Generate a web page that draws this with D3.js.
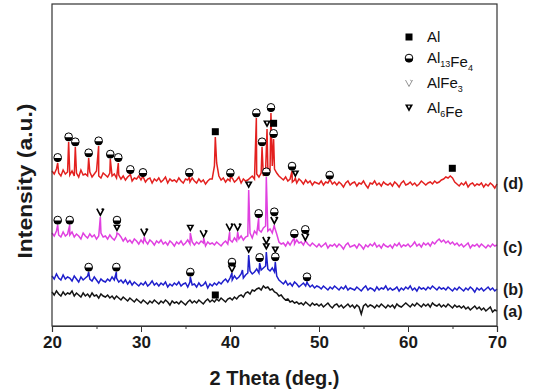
<!DOCTYPE html>
<html>
<head>
<meta charset="utf-8">
<script src="https://cdn.jsdelivr.net/npm/d3@7"></script>
<style>
  body { margin: 0; background: #fff; }
  svg { display: block; font-family: "Liberation Sans", Arial, sans-serif; }
</style>
</head>
<body>
<div id="chart"></div>
<script>
// 2-theta sampling of the noisy background (deg.)
const thetaStart = 20;
const thetaStep = 0.25;

// background scans, one value per 0.25 deg, a.u.
const scanA = [
  34,31,35,32,30,34,31,33, 32,35,30,33,31,29,33,30, 32,29,33,30,31,28,32,30, 29,31,28,30,27,30,28,26,
  29,27,25,28,26,24,27,25, 23,26,24,22,25,23,26,24, 22,25,23,26,24,21,25,23, 24,22,25,23,21,24,26,23,
  25,23,26,24,22,25,27,24, 26,24,27,25,28,26,24,27, 28,26,29,27,30,31,29,33, 34,32,36,35,37,38,36,40,
  38,39,36,37,34,33,30,31, 28,26,27,24,25,23,24,22, 23,21,24,22,20,23,21,22, 20,22,19,21,23,20,18,21,
  22,19,21,18,20,22,19,21, 18,21,19,12,20,22,19,21, 20,18,21,19,22,20,18,21, 19,21,18,22,20,19,21,23,
  21,19,22,20,23,21,19,22, 20,22,19,23,21,20,22,19, 21,19,22,20,18,21,19,20, 18,20,17,19,16,18,20,17,
  19,16,18,15,17,19,14,16, 15
];
const scanB = [
  50,47,52,48,46,51,47,49, 48,45,50,47,44,49,46,48, 50,47,45,49,46,43,47,45, 44,47,45,49,46,48,44,46,
  43,46,42,45,41,44,42,40, 43,41,44,40,42,45,41,43, 40,43,41,44,39,42,40,43, 41,44,40,42,43,39,44,41,
  42,39,43,40,41,44,38,42, 40,43,41,44,42,45,47,44, 48,46,50,47,49,52,48,51, 53,55,52,54,57,53,56,58,
  60,57,55,58,54,50,46,44, 42,45,41,43,40,44,42,39, 41,43,40,42,39,41,38,40, 39,37,40,38,36,39,37,40,
  38,36,39,37,40,36,38,37, 36,39,37,35,38,40,36,38, 37,35,39,36,38,37,40,36, 38,36,37,39,35,38,36,39,
  37,40,36,38,35,39,37,38, 36,39,37,40,38,36,39,37, 38,36,39,37,35,38,36,39, 37,35,38,36,39,37,34,38,
  36,38,35,37,39,36,38,35, 37
];
const scanC = [
  93,90,95,91,89,94,90,92, 91,94,89,92,90,87,93,90, 88,92,89,91,87,90,93,89, 90,87,91,88,86,90,92,89,
  85,88,84,86,83,87,85,82, 86,83,85,82,86,84,81,85, 83,86,82,84,81,85,83,80, 84,82,85,81,83,86,82,84,
  81,84,82,85,83,80,84,82, 83,81,84,82,80,83,85,82, 86,84,88,85,87,90,86,89, 90,93,88,95,92,96,94,98,
  100,95,97,93,99,92,84,82, 83,80,84,81,85,82,86,83, 84,81,85,82,80,83,81,79, 82,79,81,83,78,81,80,82,
  79,82,80,77,81,83,79,80, 81,78,82,80,77,81,79,82, 80,83,79,81,78,82,80,79, 81,78,82,80,83,79,81,80,
  82,79,81,84,80,82,79,83, 81,83,80,84,82,85,87,84, 86,83,85,82,84,81,83,80, 82,79,81,83,78,81,80,82,
  79,82,80,78,81,79,82,80, 81
];
const scanD = [
  155,152,157,153,150,156,152,154, 151,155,150,153,149,156,151,152, 150,154,149,152,155,150,148,153, 151,149,153,150,152,148,151,147,
  150,146,149,151,145,148,147,150, 146,149,144,147,148,143,147,145, 148,144,146,149,143,147,145,146, 144,148,145,143,147,146,144,148,
  145,143,147,144,146,142,145,147, 147,160,163,150,146,148,144,147, 145,148,144,146,149,143,147,145, 146,148,150,147,152,149,153,150,
  155,158,156,160,157,153,150,148, 146,149,145,147,144,146,143,147, 145,142,146,143,145,141,144,143, 142,145,141,144,143,146,142,144,
  141,144,142,139,143,145,141,143, 144,140,143,142,145,141,138,143, 142,145,141,143,140,144,142,141, 143,140,144,142,139,143,145,141,
  142,144,141,143,140,142,145,143, 141,143,144,142,145,143,144,146, 147,149,148,150,148,144,142,140, 143,141,144,139,142,143,140,142,
  141,143,139,142,140,143,141,138, 142
];

// sharp reflections [2theta, top intensity]
const peaksA = [];
const peaksB = [[24.12,54],[27.23,54],[35.54,49],[40.22,53],[41.4,56],[42.1,71],[43.33,63],[44.08,74],[45.09,64],[48.65,44]];
const peaksC = [[20.64,101],[21.99,101],[25.43,109],[27.3,93],[30.37,89],[35.54,93],[37.04,88],[39.96,94],[40.86,94],
  [42.1,136],[43.22,108],[44.08,149],[44.98,101],[47.23,88],[48.46,85]];
const peaksD = [[20.64,163],[21.87,184],[22.62,179],[24.12,168],[25.24,180],[26.55,167],[27.45,163],[28.8,152],[30.22,150],
  [35.43,149],[38.35,189],[40.04,149],[42.96,208],[43.6,179],[44.16,197],[44.6,213],[44.9,187],[46.97,155],[47.34,148],[51.2,146]];

// phase markers [2theta, phase, intensity of marker centre]
const marksA = [[38.35,'al',31]];
const marksB = [[24.12,'al13',59],[27.23,'al13',59],[35.54,'al13',54],[40.22,'al13',64],[40.22,'alfe3',57.7],[42.1,'al6fe',76],
  [43.33,'al13',68.7],[44.08,'alfe3',86],[44.08,'al6fe',79.3],[45.09,'al6fe',76],[45.09,'al13',69.3],[48.65,'al13',49.3]];
const marksC = [[20.64,'al13',106],[21.99,'al13',106],[25.43,'alfe3',114.3],[27.3,'al13',106],[27.3,'al6fe',97.7],[30.37,'alfe3',94.3],
  [35.54,'al6fe',97.7],[37.04,'alfe3',92.7],[39.96,'alfe3',99.3],[40.86,'alfe3',99.3],[42.1,'al6fe',141],[43.22,'al13',112.7],
  [44.08,'al13',154.3],[44.98,'al13',114.3],[44.98,'alfe3',106],[47.23,'al13',92.7],[48.46,'al13',96.7],[48.46,'alfe3',89.3]];
const marksD = [[20.64,'al13',168.7],[21.87,'al13',189.3],[22.62,'al13',184.3],[24.12,'al13',173.3],[25.24,'al13',185.3],
  [26.55,'al13',172],[27.45,'al13',168.7],[28.8,'al13',156.7],[30.22,'al13',153.7],[35.43,'al13',153.7],[38.35,'al',194.3],
  [40.04,'al13',153.3],[42.96,'al13',213.3],[43.6,'al13',184.3],[44.16,'al6fe',202],[44.6,'al13',218.7],[44.9,'al',202.7],
  [44.9,'al13',192.7],[46.97,'al13',160],[47.34,'al6fe',152],[51.2,'al13',151],[64.98,'al',157.7]];

const sampleNames = ['(a)', '(b)', '(c)', '(d)'];
const sampleLabelY = [15, 37, 79, 143];
const xTicks = [20, 30, 40, 50, 60, 70];
const xMinorTicks = [25, 35, 45, 55, 65];

const legendItems = [
  { type: 'al', parts: [['Al', false]] },
  { type: 'al13', parts: [['Al', false], ['13', true], ['Fe', false], ['4', true]] },
  { type: 'alfe3', parts: [['AlFe', false], ['3', true]] },
  { type: 'al6fe', parts: [['Al', false], ['6', true], ['Fe', false]] }
];

const width = 536, height = 391;
const margin = { left: 52, right: 39, top: 4, bottom: 65 };

const svg = d3.select('#chart').append('svg')
  .attr('width', width)
  .attr('height', height);

const x = d3.scaleLinear().domain([20, 70]).range([margin.left, width - margin.right]);
const y = d3.scaleLinear().domain([0, 322]).range([height - margin.bottom, margin.top]);

function buildSeries(scan, peaks) {
  const pts = scan.map((v, i) => [thetaStart + thetaStep * i, v]);
  return pts.concat(peaks).sort((a, b) => a[0] - b[0]);
}

const series = [
  { data: buildSeries(scanA, peaksA), marks: marksA, color: '#141414' },
  { data: buildSeries(scanB, peaksB), marks: marksB, color: '#1e1ecc' },
  { data: buildSeries(scanC, peaksC), marks: marksC, color: '#e040e0' },
  { data: buildSeries(scanD, peaksD), marks: marksD, color: '#e3201f' }
];

const line = d3.line().x(d => x(d[0])).y(d => y(d[1]));

const plot = svg.append('g');

plot.selectAll('path.scan')
  .data(series)
  .join('path')
  .attr('class', 'scan')
  .attr('d', d => line(d.data))
  .attr('fill', 'none')
  .attr('stroke', d => d.color)
  .attr('stroke-width', 1.5)
  .attr('stroke-linejoin', 'miter');

// marker glyphs
function drawMarker(g, type, grey) {
  const ink = grey ? '#888' : '#000';
  if (type === 'al') {
    g.append('rect').attr('x', -3.5).attr('y', -3.5).attr('width', 7).attr('height', 7).attr('fill', '#000');
  } else if (type === 'al13') {
    g.append('circle').attr('r', 3.8).attr('fill', '#fff').attr('stroke', '#000').attr('stroke-width', 1);
    g.append('path').attr('d', 'M-4,0.6 A4,4 0 0 0 4,0.6 Z').attr('fill', '#000');
  } else if (type === 'al6fe') {
    g.append('path').attr('d', 'M-4,-3.5 L4,-3.5 L0,3.8 Z').attr('fill', '#000');
    g.append('path').attr('d', 'M-1.2,-2.2 L1.2,-2.2 L0,0.4 Z').attr('fill', '#fff');
  } else if (type === 'alfe3') {
    g.append('path').attr('d', 'M-3.5,-3 L0,3.5 L3.5,-3 M1.5,-3.2 L2.5,-1.5')
      .attr('fill', 'none').attr('stroke', ink).attr('stroke-width', grey ? 0.9 : 1.6);
  }
}

series.forEach(s => {
  s.marks.forEach(m => {
    const g = plot.append('g').attr('transform', `translate(${x(m[0])},${y(m[2])})`);
    drawMarker(g, m[1], false);
  });
});

// frame
svg.append('rect')
  .attr('x', margin.left)
  .attr('y', margin.top)
  .attr('width', width - margin.left - margin.right)
  .attr('height', height - margin.top - margin.bottom)
  .attr('fill', 'none')
  .attr('stroke', '#333')
  .attr('stroke-width', 1.2);

// x axis
const xAxis = svg.append('g')
  .attr('transform', `translate(0,${height - margin.bottom})`)
  .call(d3.axisBottom(x).tickValues(xTicks).tickSize(6).tickPadding(4).tickFormat(d3.format('d')));
xAxis.select('.domain').attr('stroke', '#333').attr('stroke-width', 1.2);
xAxis.selectAll('.tick line').attr('stroke', '#333');
xAxis.selectAll('.tick text')
  .attr('font-size', 17)
  .attr('font-weight', 'bold')
  .attr('fill', '#1a1a1a')
  .attr('font-family', '"Liberation Sans", Arial, sans-serif');

svg.append('g')
  .attr('transform', `translate(0,${height - margin.bottom})`)
  .call(d3.axisBottom(x).tickValues(xMinorTicks).tickSize(3).tickFormat(''))
  .call(g => g.select('.domain').remove())
  .selectAll('.tick line').attr('stroke', '#333');

svg.append('text')
  .attr('x', (margin.left + width - margin.right) / 2)
  .attr('y', 385)
  .attr('text-anchor', 'middle')
  .attr('font-size', 20)
  .attr('font-weight', 'bold')
  .attr('fill', '#1a1a1a')
  .text('2 Theta (deg.)');

svg.append('text')
  .attr('transform', `translate(32,181) rotate(-90)`)
  .attr('text-anchor', 'middle')
  .attr('font-size', 21)
  .attr('font-weight', 'bold')
  .attr('fill', '#1a1a1a')
  .attr('textLength', 155)
  .attr('lengthAdjust', 'spacingAndGlyphs')
  .text('Intensity (a.u.)');

// sample labels
svg.selectAll('text.sample')
  .data(sampleNames)
  .join('text')
  .attr('class', 'sample')
  .attr('x', 503)
  .attr('y', (d, i) => y(sampleLabelY[i]) + 6)
  .attr('font-size', 16)
  .attr('font-weight', 'bold')
  .attr('fill', '#1a1a1a')
  .text(d => d);

// legend
const legend = svg.append('g').attr('transform', 'translate(409,37)');
legendItems.forEach((item, i) => {
  const row = legend.append('g').attr('transform', `translate(0,${[0, 21, 46, 71][i]})`);
  drawMarker(row.append('g'), item.type, item.type === 'alfe3');
  const t = row.append('text')
    .attr('x', 18)
    .attr('y', 5)
    .attr('font-size', 15)
    .attr('fill', '#111');
  item.parts.forEach(p => {
    t.append('tspan')
      .attr('font-size', p[1] ? 9 : 15)
      .attr('dy', p[1] ? 4 : 0)
      .text(p[0]);
    if (p[1]) t.append('tspan').attr('font-size', 15).attr('dy', -4).text('');
  });
});
</script>
</body>
</html>
